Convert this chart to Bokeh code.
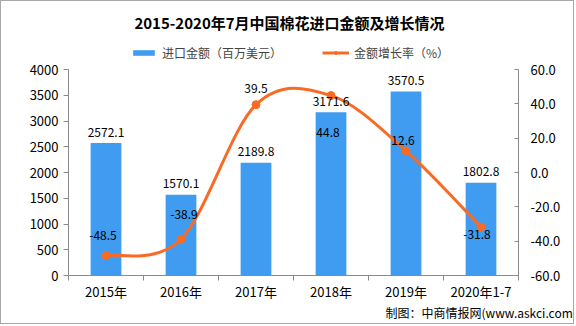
from bokeh.plotting import figure
from bokeh.layouts import column
from bokeh.models import (Range1d, LinearAxis, FixedTicker, NumeralTickFormatter, Legend,
                          LegendItem, Title, Label, ColumnDataSource)
from bokeh.core.properties import value
from bokeh.embed import file_html
from bokeh.resources import INLINE

# ---- data ----
categories = ["2015年", "2016年", "2017年", "2018年", "2019年", "2020年1-7"]
import_value = [2572.1, 1570.1, 2189.8, 3171.6, 3570.5, 1802.8]
growth_rate = [-48.5, -38.9, 39.5, 44.8, 12.6, -31.8]
left_ticks = [0, 500, 1000, 1500, 2000, 2500, 3000, 3500, 4000]
right_ticks = [-60, -40, -20, 0, 20, 40, 60]
title_text = "2015-2020年7月中国棉花进口金额及增长情况"
series_names = ["进口金额（百万美元）", "金额增长率（%）"]
source_text = "制图：中商情报网(www.askci.com)"

# label nudges (style, pixels)
rate_dx = [-3, 3, 0, -3, -3, -4]
rate_dy = [-20, -25, -16, 37, -10, 7]

BAR = "#3F9CF1"
LINE = "#F96B24"
AXIS = "#8A8A8A"
EDGE = "1px solid #A8A8A8"
FONT = "Noto Sans CJK SC"

xs = [i + 0.5 for i in range(len(categories))]
nan = float("nan")

# ---------------- header: title + legend ----------------
# (the column aligns this header's frame with the chart frame below: page x 68..518)
hdr = figure(width=574, height=61, x_range=Range1d(0, 1), y_range=Range1d(0, 1),
             output_backend="svg", toolbar_location=None,
             x_axis_location=None, y_axis_location=None,
             min_border_left=0, min_border_right=0, min_border_top=0, min_border_bottom=0)
hdr.styles = {"border-top": EDGE, "border-left": EDGE, "border-right": EDGE}
hdr.grid.visible = False
hdr.outline_line_color = None
proxy_bar = hdr.vbar(x=[nan], top=[nan], width=1, fill_color=BAR, line_color=None)
proxy_line = hdr.line(x=[nan, nan], y=[nan, nan], line_color=LINE, line_width=3)
proxy_pt = hdr.scatter(x=[nan], y=[nan], size=8, fill_color=LINE, line_color=LINE)
hdr.add_layout(Label(x=221, y=40, x_units="screen", y_units="screen", text=title_text,
                     text_align="center", text_baseline="middle", text_font=FONT,
                     text_font_style="bold", text_font_size="15px", text_color="black"))
legend = Legend(items=[LegendItem(label=series_names[0], renderers=[proxy_bar]),
                       LegendItem(label=series_names[1], renderers=[proxy_line, proxy_pt])],
                orientation="horizontal", location=(62, 1), border_line_color=None,
                background_fill_alpha=0, padding=0, margin=0, spacing=40, label_standoff=5,
                glyph_width=27, glyph_height=7, label_text_font=FONT,
                label_text_font_size="12px", label_height=14)
hdr.add_layout(legend, "center")

# ---------------- main chart ----------------
p = figure(width=574, height=263, x_range=Range1d(0, len(categories)), y_range=Range1d(0, 4000),
           output_backend="svg", toolbar_location=None,
           min_border_left=67, min_border_right=57, min_border_top=8, min_border_bottom=49)
p.styles = {"border-bottom": EDGE, "border-left": EDGE, "border-right": EDGE}
p.extra_y_ranges = {"pct": Range1d(-60, 60)}
p.xgrid.visible = False
p.ygrid.visible = False
p.outline_line_color = None

p.vbar(x=xs, top=import_value, width=0.41, fill_color=BAR, line_color=None)

# smooth line via bezier segments computed from the data points
n = len(xs)
bz = dict(x0=[], y0=[], x1=[], y1=[], cx0=[], cy0=[], cx1=[], cy1=[])
for i in range(n - 1):
    ip = max(i - 1, 0)
    inx = min(i + 2, n - 1)
    bz["x0"].append(xs[i]); bz["y0"].append(growth_rate[i])
    bz["x1"].append(xs[i + 1]); bz["y1"].append(growth_rate[i + 1])
    bz["cx0"].append(xs[i] + (xs[i + 1] - xs[ip]) / 6)
    bz["cy0"].append(growth_rate[i] + (growth_rate[i + 1] - growth_rate[ip]) / 6)
    bz["cx1"].append(xs[i + 1] - (xs[inx] - xs[i]) / 6)
    bz["cy1"].append(growth_rate[i + 1] - (growth_rate[inx] - growth_rate[i]) / 6)
p.bezier(x0="x0", y0="y0", x1="x1", y1="y1", cx0="cx0", cy0="cy0", cx1="cx1", cy1="cy1",
         source=ColumnDataSource(bz), line_color=LINE, line_width=3, y_range_name="pct")
p.scatter(x=xs, y=growth_rate, size=8, fill_color=LINE, line_color=LINE, y_range_name="pct")

# value labels
p.text(x=xs, y=import_value, text=[f"{v:.1f}" for v in import_value], text_align="center",
       text_baseline="middle", y_offset=-11, text_font=value(FONT), text_font_size="12px",
       text_color="black")
rsrc = ColumnDataSource(dict(x=xs, y=growth_rate, t=[f"{v:.1f}" for v in growth_rate],
                             dx=rate_dx, dy=rate_dy))
p.text(x="x", y="y", text="t", x_offset="dx", y_offset="dy", source=rsrc, text_align="center",
       text_baseline="middle", text_font=value(FONT), text_font_size="12px", text_color="black",
       y_range_name="pct")

# axes
def style_axis(ax):
    ax.axis_line_color = AXIS
    ax.major_tick_line_color = AXIS
    ax.minor_tick_line_color = None
    ax.major_label_text_font = FONT
    ax.major_label_text_font_size = "13px"
    ax.major_label_text_color = "black"

ly = p.yaxis[0]
ly.ticker = FixedTicker(ticks=left_ticks)
style_axis(ly)
ly.major_tick_out = 5
ly.major_tick_in = 0
ly.major_label_standoff = 5

ry = LinearAxis(y_range_name="pct", ticker=FixedTicker(ticks=right_ticks),
                formatter=NumeralTickFormatter(format="0.0"))
style_axis(ry)
ry.major_tick_out = 0
ry.major_tick_in = 4
ry.major_label_standoff = 12
p.add_layout(ry, "right")

xa = p.xaxis[0]
xa.ticker = FixedTicker(ticks=xs, minor_ticks=list(range(len(categories) + 1)))
xa.major_label_overrides = {x: c for x, c in zip(xs, categories)}
style_axis(xa)
xa.major_tick_line_color = None
xa.minor_tick_line_color = AXIS
xa.minor_tick_out = 5
xa.minor_tick_in = 0
xa.major_label_standoff = 0

p.add_layout(Title(text=source_text, align="left", offset=317, text_font=FONT,
                   text_font_style="normal", text_font_size="12px", text_color="black",
                   standoff=-3), "below")

layout = column(hdr, p, spacing=0)
open("out.html", "w").write(file_html(layout, INLINE))
